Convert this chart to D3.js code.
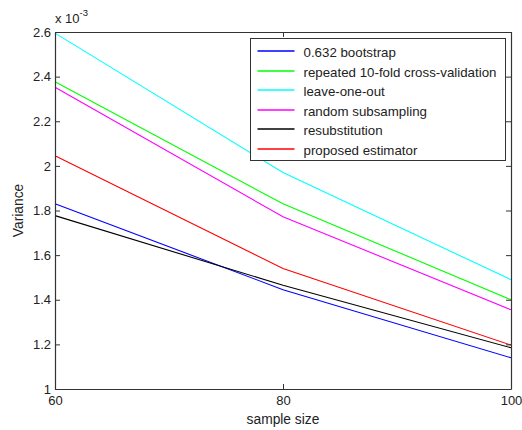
<!DOCTYPE html>
<html>
<head>
<meta charset="utf-8">
<script src="https://cdn.jsdelivr.net/npm/d3@7"></script>
<style>
  body { margin: 0; background: #fff; }
  text { font-family: Arial, "Liberation Sans", sans-serif; }
</style>
</head>
<body>
<svg id="drawing_region"></svg>
<script>
const sampleSizes = [60, 80, 100];
const xTicks = [60, 80, 100];
const yTicks = [1, 1.2, 1.4, 1.6, 1.8, 2, 2.2, 2.4, 2.6];

const seriesNames = ['0.632 bootstrap', 'repeated 10-fold cross-validation', 'leave-one-out',
                     'random subsampling', 'resubstitution', 'proposed estimator'];
const seriesColors = ['#0000ff', '#00ff00', '#00ffff', '#ff00ff', '#000000', '#ff0000'];

// values in units of 1e-3
const bootstrap = [1.83, 1.445, 1.14];
const crossValidation = [2.377, 1.83, 1.40];
const leaveOneOut = [2.595, 1.97, 1.49];
const randomSubsampling = [2.352, 1.772, 1.355];
const resubstitution = [1.777, 1.465, 1.185];
const proposed = [2.045, 1.54, 1.197];

const seriesValues = [bootstrap, crossValidation, leaveOneOut, randomSubsampling, resubstitution, proposed];

const width = 522, height = 430;
const margin = {top: 32, right: 11, bottom: 41, left: 55};
const innerW = width - margin.left - margin.right;
const innerH = height - margin.top - margin.bottom;

const svg = d3.select('#drawing_region').attr('width', width).attr('height', height);
const chart = svg.append('g').attr('transform', `translate(${margin.left},${margin.top})`);

const xscale = d3.scaleLinear().domain([60, 100]).range([0, innerW]);
const yscale = d3.scaleLinear().domain([1, 2.6]).range([innerH, 0]);

const axisColor = '#333';
const textColor = '#222';

// Lines
const line = d3.line()
    .x((d, i) => xscale(sampleSizes[i]))
    .y(d => yscale(d));

seriesValues.forEach((vals, k) => {
    chart.append('path')
        .attr('d', line(vals))
        .attr('stroke', seriesColors[k])
        .attr('stroke-width', 1.1)
        .attr('fill', 'none');
});

// Axes: ticks inward, on all four sides
const xaxis = d3.axisBottom(xscale).tickValues(xTicks).tickSizeInner(-5).tickSizeOuter(0).tickPadding(7);
const yaxis = d3.axisLeft(yscale).tickValues(yTicks).tickSizeInner(-5).tickSizeOuter(0).tickPadding(4)
    .tickFormat(d3.format('~g'));
const xaxisTop = d3.axisTop(xscale).tickValues(xTicks).tickSizeInner(-5).tickSizeOuter(0).tickFormat('');
const yaxisRight = d3.axisRight(yscale).tickValues(yTicks).tickSizeInner(-5).tickSizeOuter(0).tickFormat('');

const gx = chart.append('g').attr('transform', `translate(0,${innerH})`).call(xaxis);
const gy = chart.append('g').call(yaxis);
const gxt = chart.append('g').call(xaxisTop);
const gyr = chart.append('g').attr('transform', `translate(${innerW},0)`).call(yaxisRight);

[gx, gy, gxt, gyr].forEach(g => {
    g.select('.domain').attr('stroke', axisColor).attr('stroke-width', 1.2);
    g.selectAll('.tick line').attr('stroke', axisColor);
    g.selectAll('.tick text').attr('fill', textColor).style('font-size', '13px')
        .style('font-family', 'Arial, "Liberation Sans", sans-serif');
});

// Exponent label
const expo = svg.append('text')
    .attr('x', margin.left)
    .attr('y', 23)
    .attr('fill', textColor)
    .style('font-size', '13px');
expo.append('tspan').text('x 10');
expo.append('tspan').attr('dy', -7).style('font-size', '9.5px').text('-3');

// Axis labels
svg.append('text')
    .attr('x', margin.left + innerW / 2)
    .attr('y', 424)
    .attr('text-anchor', 'middle')
    .attr('fill', textColor)
    .style('font-size', '13.8px')
    .text('sample size');

svg.append('text')
    .attr('transform', `translate(23,${margin.top + innerH / 2}) rotate(-90)`)
    .attr('text-anchor', 'middle')
    .attr('fill', textColor)
    .style('font-size', '13.8px')
    .text('Variance');

// Legend
const legend = svg.append('g').attr('transform', 'translate(250.5,38.5)');
legend.append('rect')
    .attr('width', 255).attr('height', 122)
    .attr('fill', '#fff').attr('stroke', axisColor).attr('stroke-width', 1);

seriesNames.forEach((name, k) => {
    const y = Math.round(13 + k * 19.6);
    legend.append('line')
        .attr('x1', 7).attr('x2', 44).attr('y1', y - 0.5).attr('y2', y - 0.5)
        .attr('stroke', seriesColors[k])
        .attr('stroke-width', 1.5);
    legend.append('text')
        .attr('x', 53).attr('y', y + 5)
        .attr('fill', textColor)
        .style('font-size', '13.3px')
        .text(name);
});
</script>
</body>
</html>
